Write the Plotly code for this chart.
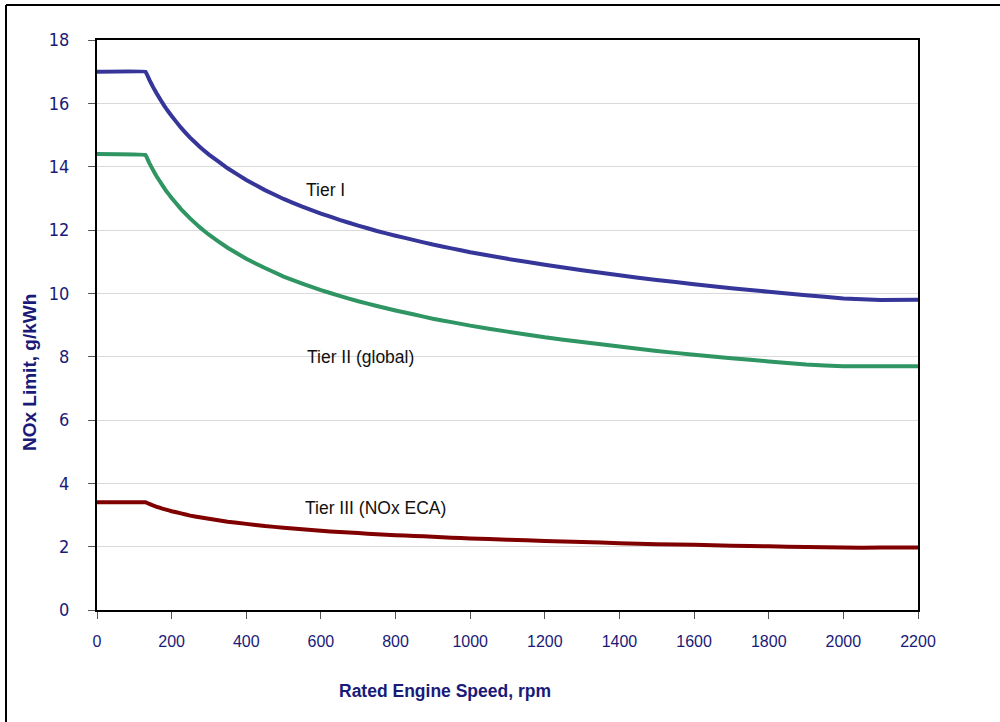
import plotly.graph_objects as go

speed = [0, 130, 140, 150, 160, 175, 185, 200, 225, 250, 275, 300, 350, 400, 450, 500,
         550, 600, 650, 700, 750, 800, 850, 900, 950, 1000, 1100, 1200, 1300, 1400,
         1500, 1600, 1700, 1800, 1900, 2000, 2100, 2200]
tier1 = [17.0, 17.0, 16.75, 16.52, 16.31, 16.02, 15.84, 15.60, 15.23, 14.91, 14.63,
         14.38, 13.95, 13.58, 13.26, 12.98, 12.74, 12.52, 12.32, 12.14, 11.97, 11.82,
         11.68, 11.54, 11.42, 11.30, 11.09, 10.90, 10.73, 10.57, 10.42, 10.29, 10.16,
         10.05, 9.94, 9.84, 9.79, 9.80]
tier2 = [14.4, 14.37, 14.12, 13.90, 13.69, 13.42, 13.24, 13.01, 12.66, 12.36, 12.09,
         11.85, 11.44, 11.09, 10.80, 10.53, 10.31, 10.10, 9.92, 9.75, 9.60, 9.46,
         9.33, 9.20, 9.09, 8.98, 8.79, 8.61, 8.46, 8.32, 8.18, 8.06, 7.95, 7.85,
         7.75, 7.70, 7.70, 7.70]
tier3 = [3.4, 3.4, 3.35, 3.30, 3.26, 3.20, 3.17, 3.12, 3.05, 2.98, 2.93, 2.88, 2.79,
         2.72, 2.65, 2.60, 2.55, 2.50, 2.46, 2.43, 2.39, 2.36, 2.34, 2.31, 2.28, 2.26,
         2.22, 2.18, 2.15, 2.11, 2.08, 2.06, 2.03, 2.01, 1.99, 1.97, 1.97, 1.97]

labels = ["Tier I", "Tier II (global)", "Tier III (NOx ECA)"]
label_x = [611, 705, 745]
label_y = [13.26, 7.99, 3.22]

x_ticks = list(range(0, 2201, 200))
y_ticks = list(range(0, 19, 2))

navy = "#1a1a78"
fig = go.Figure()
for ys, col in [(tier1, "#35359a"), (tier2, "#2e9563"), (tier3, "#800000")]:
    fig.add_trace(go.Scatter(x=speed, y=ys, mode="lines",
                             line=dict(color=col, width=4, shape="spline", smoothing=0.15),
                             showlegend=False, hoverinfo="skip"))

for t, xx, yy in zip(labels, label_x, label_y):
    fig.add_annotation(x=xx, y=yy, text=t, showarrow=False,
                       font=dict(family="Liberation Sans", size=17.5, color="#111111"))

fig.add_annotation(xref="paper", yref="paper", x=(445 - 97) / 821, y=-(691 - 610) / 570,
                   xanchor="center", yanchor="middle",
                   text="<b>Rated Engine Speed, rpm</b>", showarrow=False,
                   font=dict(family="Liberation Sans", size=17.5, color=navy))
fig.add_annotation(xref="paper", yref="paper", x=-(97 - 29) / 821, y=(610 - 373) / 570,
                   xanchor="center", yanchor="middle",
                   text="<b>NOx Limit, g/kWh</b>", showarrow=False, textangle=-90,
                   font=dict(family="Liberation Sans", size=19, color=navy))

# outer frame
fig.add_shape(type="line", xref="paper", yref="paper",
              x0=-(97 - 6) / 821, x1=(1000 - 97) / 821, y0=(610 - 5) / 570, y1=(610 - 5) / 570,
              line=dict(color="black", width=2))
fig.add_shape(type="line", xref="paper", yref="paper",
              x0=-(97 - 6) / 821, x1=-(97 - 6) / 821, y0=(610 - 5) / 570, y1=-(722 - 610) / 570,
              line=dict(color="black", width=2))

fig.update_xaxes(range=[0, 2200], tickvals=x_ticks, showgrid=False, zeroline=False,
                 showline=True, linecolor="black", linewidth=2, mirror=True,
                 ticks="outside", ticklen=7, tickcolor="#555555",
                 ticklabelstandoff=9,
                 tickfont=dict(family="Liberation Sans", size=16, color=navy))
fig.update_yaxes(range=[0, 18], tickvals=y_ticks, showgrid=True, gridcolor="#d9d9d9",
                 gridwidth=1, zeroline=False,
                 showline=True, linecolor="black", linewidth=2, mirror=True,
                 ticks="outside", ticklen=7, tickcolor="#555555",
                 ticklabelstandoff=15,
                 tickfont=dict(family="DejaVu Sans Condensed", size=18, color=navy))

fig.update_layout(width=1000, height=722, margin=dict(l=97, r=82, t=40, b=112),
                  plot_bgcolor="white", paper_bgcolor="white")
fig.write_html("out.html", config={"displayModeBar": False},
               post_script="document.body.style.margin='0';")
